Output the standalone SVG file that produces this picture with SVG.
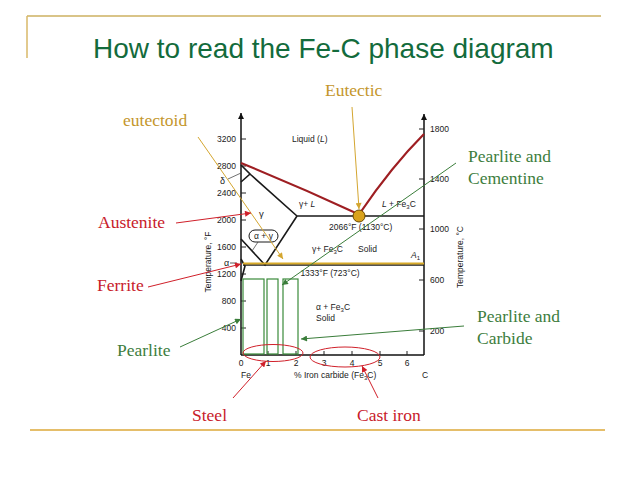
<svg xmlns="http://www.w3.org/2000/svg" width="638" height="479" viewBox="0 0 638 479">
<style>
.ax{stroke:#111;stroke-width:1.5;fill:none}
.ph{stroke:#1a1a1a;stroke-width:1.6;fill:none}
.tk{stroke:#222;stroke-width:1;fill:none}
.sm{font-family:"Liberation Sans",Arial,sans-serif;font-size:8.5px;fill:#1a1a1a}
.lb{font-family:"Liberation Serif","Times New Roman",serif;font-size:17.5px}
.red{fill:#c8202a}.grn{fill:#3d7d3d}.gld{fill:#c4962c}
.rl{stroke:#d0202a;stroke-width:1;fill:none}
.gl{stroke:#3a7d3a;stroke-width:1;fill:none}
.yl{stroke:#d4a630;stroke-width:1;fill:none}
.rect{stroke:#3a8a3a;stroke-width:1.2;fill:none}
</style>
<defs>
<marker id="ab" viewBox="0 0 10 10" refX="10" refY="5" markerWidth="6" markerHeight="8" markerUnits="userSpaceOnUse" orient="auto"><path d="M0,0 L10,5 L0,10 z" fill="#111"/></marker>
<marker id="ar" viewBox="0 0 10 10" refX="10" refY="5" markerWidth="7" markerHeight="6" markerUnits="userSpaceOnUse" orient="auto"><path d="M0,0 L10,5 L0,10 z" fill="#d0202a"/></marker>
<marker id="ag" viewBox="0 0 10 10" refX="10" refY="5" markerWidth="7" markerHeight="6" markerUnits="userSpaceOnUse" orient="auto"><path d="M0,0 L10,5 L0,10 z" fill="#3a7d3a"/></marker>
<marker id="ay" viewBox="0 0 10 10" refX="10" refY="5" markerWidth="7" markerHeight="6" markerUnits="userSpaceOnUse" orient="auto"><path d="M0,0 L10,5 L0,10 z" fill="#d4a630"/></marker>
</defs>
<rect width="638" height="479" fill="#ffffff"/>
<g id="frame">
<line x1="27" y1="16" x2="601" y2="16" stroke="#cdb060" stroke-width="1.5"/>
<line x1="27" y1="16" x2="27" y2="58" stroke="#d8b868" stroke-width="1.5"/>
<line x1="30" y1="430" x2="605" y2="430" stroke="#dca838" stroke-width="1.5"/>
<text x="93" y="58" font-family="'Liberation Sans',Arial,sans-serif" font-size="28" fill="#136b3c">How to read the Fe-C phase diagram</text>
</g>
<g id="chart">
<line class="ax" x1="241" y1="355" x2="241" y2="113" marker-end="url(#ab)"/>
<line class="ax" x1="424" y1="355" x2="424" y2="114" marker-end="url(#ab)"/>
<line class="ax" x1="241" y1="355" x2="424" y2="355"/>
<g class="tk">
<path d="M241,139h5M241,166h5M241,193h5M241,220h5M241,247h5M241,274h5M241,301h5M241,328h5"/>
<path d="M419,129h5M419,179h5M419,229h5M419,280h5M419,331h5"/>
<path d="M268,355v-4M296,355v-4M324,355v-4M352,355v-4M380,355v-4M407,355v-4"/>
</g>
<g class="sm" text-anchor="end">
<text x="236" y="142">3200</text><text x="236" y="169">2800</text><text x="236" y="196">2400</text><text x="236" y="223">2000</text><text x="236" y="250">1600</text><text x="236" y="277">1200</text><text x="236" y="304">800</text><text x="236" y="331">400</text>
</g>
<g class="sm">
<text x="430" y="132">1800</text><text x="430" y="182">1400</text><text x="430" y="232">1000</text><text x="430" y="283">600</text><text x="430" y="334">200</text>
</g>
<g class="sm" text-anchor="middle">
<text x="241" y="366">0</text><text x="268" y="366">1</text><text x="296" y="366">2</text><text x="324" y="366">3</text><text x="352" y="366">4</text><text x="380" y="366">5</text><text x="407" y="366">6</text>
<text x="246" y="378">Fe</text><text x="425" y="378">C</text>
</g>
<text class="sm" x="294" y="378">% Iron carbide (Fe<tspan font-size="6" dy="2">3</tspan><tspan dy="-2">C)</tspan></text>
<text class="sm" transform="translate(211,262) rotate(-90)" text-anchor="middle">Temperature, °F</text>
<text class="sm" transform="translate(463,257) rotate(-90)" text-anchor="middle">Temperature, °C</text>
<!-- phase lines -->
<path class="ph" d="M241,165 L250,174 L241,182 M250,174 L297,216 L424,216 M297,216 L265,265 L241,239"/>
<path class="ph" d="M241,259 L245,266 L241,281"/>
<path class="ph" d="M243,265 L424,265"/>
<line x1="243" y1="263.5" x2="424" y2="263.5" stroke="#d8aa28" stroke-width="1.8"/>
<path d="M241,163 Q300,187 358,214" stroke="#9e1e22" stroke-width="2.2" fill="none"/>
<path d="M360,213 Q392,166 424,134" stroke="#9e1e22" stroke-width="2.2" fill="none"/>
<circle cx="359" cy="216" r="6" fill="#d9a21c" stroke="#6a4a00" stroke-width="1"/>
<rect x="249" y="230" width="29" height="12" rx="6" fill="#fff" stroke="#1a1a1a" stroke-width="1"/>
<line x1="258" y1="242" x2="252" y2="251" stroke="#333" stroke-width="0.7"/>
<line x1="228" y1="179" x2="241" y2="173" stroke="#333" stroke-width="0.7"/>
<line x1="230" y1="263" x2="237" y2="263" stroke="#333" stroke-width="0.8"/>
<g class="sm">
<text x="292" y="142">Liquid (<tspan font-style="italic">L</tspan>)</text>
<text x="299" y="207">γ+ <tspan font-style="italic">L</tspan></text>
<text x="382" y="207"><tspan font-style="italic">L</tspan> + Fe<tspan font-size="6" dy="2">3</tspan><tspan dy="-2">C</tspan></text>
<text x="329" y="230">2066°F (1130°C)</text>
<text x="259" y="217" font-size="9.5">γ</text>
<text x="263.5" y="239" text-anchor="middle">α + γ</text>
<text x="220" y="184" font-size="9">δ</text>
<text x="224" y="266" font-size="9">α</text>
<text x="312" y="252">γ+ Fe<tspan font-size="6" dy="2">3</tspan><tspan dy="-2">C</tspan></text>
<text x="358" y="252">Solid</text>
<text x="411" y="258" font-style="italic">A<tspan font-size="6" dy="2" font-style="normal">1</tspan></text>
<text x="330" y="276" text-anchor="middle">1333°F (723°C)</text>
<text x="316" y="310">α + Fe<tspan font-size="6" dy="2">3</tspan><tspan dy="-2">C</tspan></text>
<text x="316" y="321">Solid</text>
</g>
</g>
<g id="pearlite-bars">
<rect class="rect" x="243" y="279" width="21" height="75"/>
<rect class="rect" x="267" y="279" width="11" height="75"/>
<rect class="rect" x="283" y="279" width="15" height="75"/>
</g>
<g id="ellipses">
<ellipse cx="273" cy="353" rx="30" ry="8.5" class="rl" stroke-width="1.2"/>
<ellipse cx="345" cy="357" rx="35" ry="10" class="rl" stroke-width="1.2"/>
</g>
<g id="connectors">
<line class="yl" x1="198" y1="137" x2="283" y2="259" marker-end="url(#ay)"/>
<line class="yl" x1="352" y1="107" x2="359" y2="209" marker-end="url(#ay)"/>
<line class="rl" x1="176" y1="223" x2="251" y2="213" marker-end="url(#ar)"/>
<line class="rl" x1="148" y1="287" x2="241" y2="264" marker-end="url(#ar)"/>
<line class="gl" x1="180" y1="347" x2="241" y2="319" marker-end="url(#ag)"/>
<line class="gl" x1="456" y1="163" x2="282" y2="285" marker-end="url(#ag)"/>
<line class="gl" x1="464" y1="326" x2="301" y2="339" marker-end="url(#ag)"/>
<line class="rl" x1="233" y1="398" x2="266" y2="361" marker-end="url(#ar)"/>
<line class="rl" x1="378" y1="398" x2="362" y2="366" marker-end="url(#ar)"/>
</g>
<g id="labels" class="lb">
<text id="eutectic" x="325" y="96" class="gld">Eutectic</text>
<text id="eutectoid" x="123" y="126" class="gld">eutectoid</text>
<text id="austenite" x="98" y="228" class="red">Austenite</text>
<text id="ferrite" x="97" y="291" class="red">Ferrite</text>
<text id="pearlite" x="117" y="356" class="grn">Pearlite</text>
<text id="pc" x="468" class="grn"><tspan x="468" y="162">Pearlite and</tspan><tspan x="468" y="184">Cementine</tspan></text>
<text id="pcarb" x="477" class="grn"><tspan x="477" y="322">Pearlite and</tspan><tspan x="477" y="344">Carbide</tspan></text>
<text id="steel" x="192" y="421" class="red">Steel</text>
<text id="castiron" x="357" y="421" class="red">Cast iron</text>
</g>
</svg>
